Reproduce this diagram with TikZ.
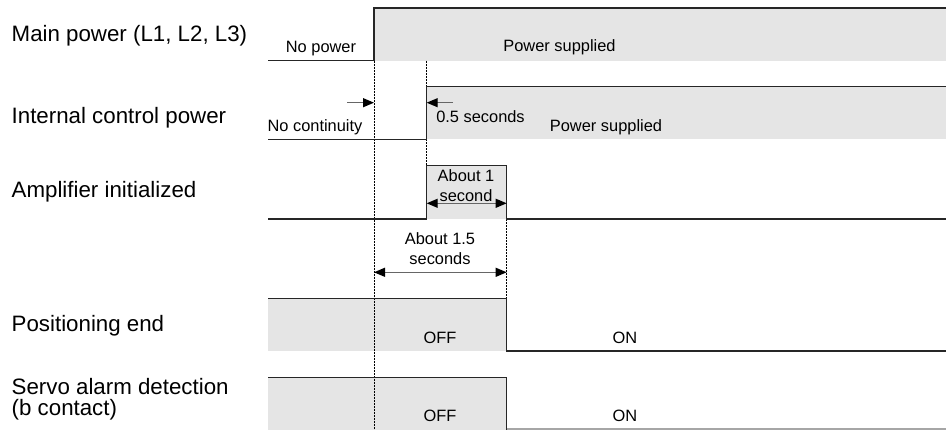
\documentclass[tikz,border=0pt]{standalone}
\usepackage{fontspec}
\setmainfont{Liberation Sans}
\usetikzlibrary{arrows.meta}
\begin{document}
\begin{tikzpicture}[x=1pt,y=-1pt,
  sig/.style={line width=1.5pt, draw=black!85},
  fillg/.style={fill=black!10},
  guide/.style={line width=1pt, dash pattern=on 2pt off 1pt, draw=black},
  lab/.style={anchor=base west, inner sep=0pt, font=\fontsize{22.3}{25}\selectfont},
  sm/.style={anchor=base, inner sep=0pt, font=\fontsize{16.4}{19}\selectfont},
  >={Triangle[length=11pt,width=9pt,color=black]},
  dimline/.style={line width=1.2pt, draw=black!60},
]
\useasboundingbox (0,0) rectangle (946,430);
% fills
\fill[fillg] (374,8) rectangle (946,60.7);
\fill[fillg] (426.7,86.7) rectangle (946,139.3);
\fill[fillg] (426.7,165.7) rectangle (506.7,219);
\fill[fillg] (268,298.3) rectangle (506.7,351);
\fill[fillg] (268,377.7) rectangle (506.7,430);
% guides
\draw[guide] (374,60.7) -- (374,430);
\draw[guide] (426.7,60.7) -- (426.7,86.7);
\draw[guide] (426.7,139.3) -- (426.7,165.7);
\draw[guide] (506.7,219) -- (506.7,298.3);
% signals
\draw[sig] (268,60.7) -- (374,60.7) -- (374,8) -- (946,8);
\draw[sig] (268,139.3) -- (426.7,139.3) -- (426.7,86.7) -- (946,86.7);
\draw[sig] (268,219) -- (426.7,219) -- (426.7,165.7) -- (506.7,165.7) -- (506.7,219) -- (946,219);
\draw[sig] (268,298.3) -- (506.7,298.3) -- (506.7,351) -- (946,351);
\draw[sig] (268,377.7) -- (506.7,377.7) -- (506.7,430);
\draw[line width=1.5pt, black!35] (506.7,429) -- (946,429);
% dimension arrows
\coordinate (d1a) at (347,102.7);
\coordinate (d1b) at (374,102.7);
\coordinate (d2a) at (453,102.7);
\coordinate (d2b) at (426.7,102.7);
\draw[dimline, ->] (d1a) -- (d1b);
\draw[dimline, ->] (d2a) -- (d2b);
\coordinate (d3a) at (426.7,203.3);
\coordinate (d3b) at (506.7,203.3);
\draw[dimline, <->] (d3a) -- (d3b);
\coordinate (d4a) at (374,272.3);
\coordinate (d4b) at (506.7,272.3);
\draw[dimline, <->] (d4a) -- (d4b);
% left labels
\node[lab] (l1) at (11.5,41.7) {Main power (L1, L2, L3)};
\node[lab] (l2) at (11.5,123.3) {Internal control power};
\node[lab] (l3) at (11.5,197.3) {Amplifier initialized};
\node[lab] (l4) at (11.5,331.7) {Positioning end};
\node[lab] (l5) at (11.5,394.3) {Servo alarm detection};
\node[lab] (l6) at (11.5,415.5) {(b contact)};
% small texts
\node[sm] (t1) at (321,52.5) {No power};
\node[sm] (t2) at (559.5,52) {Power supplied};
\node[sm] (t3) at (315,132) {No continuity};
\node[sm] (t4) at (480.5,122.7) {0.5 seconds};
\node[sm] (t5) at (606,131.7) {Power supplied};
\node[sm] (t6) at (466,181.7) {About 1};
\node[sm] (t7) at (466,201.5) {second};
\node[sm] (t8) at (440,245) {About 1.5};
\node[sm] (t9) at (440,265) {seconds};
\node[sm] (t10) at (440,343.3) {OFF};
\node[sm] (t11) at (625,343.3) {ON};
\node[sm] (t12) at (440,421.7) {OFF};
\node[sm] (t13) at (625,421.7) {ON};
\end{tikzpicture}
\end{document}
